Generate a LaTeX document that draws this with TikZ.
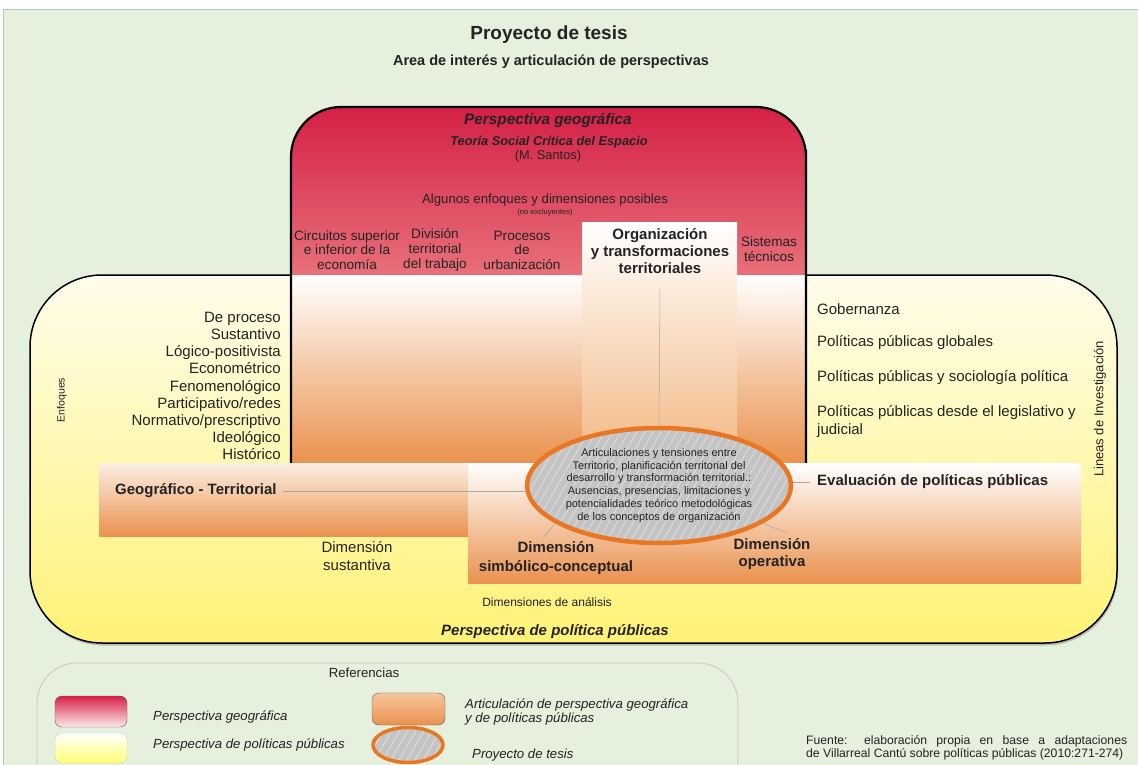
\documentclass[tikz,border=0pt]{standalone}
\usepackage{fontspec}
\setmainfont{Liberation Sans}
\usetikzlibrary{shapes.geometric,shadows,patterns.meta}
\definecolor{panel}{RGB}{229,240,221}
\definecolor{redtop}{RGB}{212,32,70}
\definecolor{redbot}{RGB}{232,112,122}
\definecolor{orng}{RGB}{234,146,78}
\definecolor{orglt}{RGB}{243,184,132}
\definecolor{ylwtop}{RGB}{255,253,236}
\definecolor{ylwbot}{RGB}{255,242,118}
\definecolor{elorng}{RGB}{232,118,34}
\definecolor{elgray}{RGB}{196,196,196}
\definecolor{txt}{RGB}{35,35,35}

\begin{document}
\begin{tikzpicture}[x=1pt, y=-1pt,
  every node/.style={text=txt, inner sep=0},
  lbl/.style={font=\fontsize{15}{17.1}\selectfont},
  bld/.style={font=\fontsize{15}{17}\selectfont\bfseries},
  col/.style={font=\fontsize{13.6}{14.6}\selectfont, align=center},
  leg/.style={font=\fontsize{13.2}{14.5}\selectfont\itshape, anchor=west, align=left},
  conn/.style={draw=gray!70, line width=0.5},
  hatched/.style={ellipse, draw=elorng, preaction={fill=elgray}, pattern color=white!80!gray,
    pattern={Lines[angle=60, distance=7pt, line width=0.6pt]}}]
\clip (0,0) rectangle (1138,765);
\fill[white] (0,0) rectangle (1138,765);
\filldraw[fill=panel, draw=gray!50] (3,9) rectangle (1145,775);

\node (title) at (549,35) {\fontsize{19}{22}\selectfont\bfseries Proyecto de tesis};
\node (subtitle) at (551,62) {\fontsize{14.5}{17}\selectfont\bfseries Area de interés y articulación de perspectivas};

% perspectiva de politicas publicas
\shadedraw[top color=ylwtop, bottom color=ylwbot, draw=black, line width=1.5, rounded corners=72,
  drop shadow={shadow xshift=1pt, shadow yshift=-2.5pt, opacity=.45}] (30,275) rectangle (1117,643);

% perspectiva geografica
\shade[top color=white, bottom color=orng] (291,275) rectangle (806,463);
\shade[top color=redtop, bottom color=redbot] (291,275) -- (291,200) [rounded corners=50] -- (291,107)
  -- (806,107) -- (806,200) [sharp corners] -- (806,275) -- cycle;
\shade[top color=white, bottom color=orglt] (582,222) rectangle (737,463);
\draw[line width=2.2] (291,463) -- (291,200) [rounded corners=50] -- (291,107)
  -- (806,107) -- (806,200) [sharp corners] -- (806,463);

% franjas de articulacion
\shade[top color=white!85!orng, bottom color=orng] (99,463) rectangle (468,536);
\shade[top color=white, bottom color=orng] (468,463) rectangle (1081,583);

\node (geohead) at (548,120) {\fontsize{15.3}{18}\selectfont\bfseries\itshape Perspectiva geográfica};
\node (teoria) at (549,142) {\fontsize{12.8}{15}\selectfont\bfseries\itshape Teoría Social Crítica del Espacio};
\node (santos) at (548,156) {\fontsize{12.8}{15}\selectfont (M. Santos)};
\node (algunos) at (545,200) {\fontsize{13.2}{15}\selectfont Algunos enfoques y dimensiones posibles};
\node (noexcl) at (545,213) {\fontsize{7.5}{9}\selectfont (no excluyentes)};

\node[col] (circ) at (347,250) {Circuitos superior\\e inferior de la\\economía};
\node[col] (div) at (435,250) {División\\territorial\\del trabajo};
\node[col] (proc) at (522,250) {Procesos\\de\\urbanización};
\node[bld, align=center] (org) at (660,251) {Organización\\y transformaciones\\territoriales};
\node[col] (sist) at (769,249) {Sistemas\\técnicos};

\node[lbl, align=right, anchor=east] (enfl) at (281,386) {De proceso\\Sustantivo\\Lógico-positivista\\Econométrico\\Fenomenológico\\Participativo/redes\\Normativo/prescriptivo\\Ideológico\\Histórico};
\node[rotate=90, font=\fontsize{10.5}{12}\selectfont] (enf) at (62,400) {Enfoques};

\node[lbl, anchor=west] (gob) at (817,309) {Gobernanza};
\node[lbl, anchor=west] (ppg) at (817,343) {Políticas públicas globales};
\node[lbl, anchor=west] (pps) at (817,378) {Políticas públicas y sociología política};
\node[anchor=west, align=left, font=\fontsize{15}{18}\selectfont] (ppl) at (817,422) {Políticas públicas desde el legislativo y\\judicial};
\node[rotate=90, font=\fontsize{13}{15}\selectfont] (lineas) at (1100,409) {Lineas de Investigación};

\node[bld, anchor=west] (geo) at (115,491) {Geográfico - Territorial};
\node[bld, anchor=west] (eval) at (817,482) {Evaluación de políticas públicas};
\node[lbl, align=center, font=\fontsize{15}{18}\selectfont] (sust) at (357,556) {Dimensión\\sustantiva};
\node[align=center, font=\fontsize{15}{19}\selectfont\bfseries] (sim) at (556,558) {Dimensión\\simbólico-conceptual};
\node[bld, align=center] (oper) at (772,554) {Dimensión\\operativa};
\node (dimana) at (547,602) {\fontsize{12}{14}\selectfont Dimensiones de análisis};
\node (pppub) at (555,632) {\fontsize{15}{18}\selectfont\bfseries\itshape Perspectiva de política públicas};

% proyecto de tesis
\node[hatched, line width=4.5, minimum width=231, minimum height=115, align=center,
  font=\fontsize{11}{12.8}\selectfont] (proj) at (659,485.5)
  {Articulaciones y tensiones entre\\Territorio, planificación territorial del\\desarrollo y transformación territorial.:\\Ausencias, presencias, limitaciones y\\potencialidades teórico metodológicas\\de los conceptos de organización};

\coordinate (simtip) at (543,538);
\coordinate (optip) at (787,533);
\draw[conn] ([xshift=6]geo.east) -- (geo.east -| proj.west);
\draw[conn] ([yshift=-15]org.south) -- (proj.north);
\draw[conn] ([xshift=-7]eval.west) -- (eval.west -| proj.east);
\draw[conn] (proj.200) -- (simtip);
\draw[conn] (proj.340) -- (optip);

% referencias
\draw[draw=gray!45, line width=0.8, rounded corners=40] (37,663) rectangle (738,800);
\node (ref) at (364,673) {\fontsize{13.2}{15}\selectfont Referencias};
\shadedraw[top color=redtop, bottom color=white!92!red, draw=gray!70!black, rounded corners=7] (55,696) rectangle (127,727);
\shadedraw[top color=white, bottom color=yellow!55, draw=gray!40, rounded corners=7] (55,733) rectangle (127,763);
\shadedraw[top color=orglt!80!white, bottom color=orng, draw=gray!70!black, rounded corners=7] (372,693) rectangle (445,725);
\node[hatched, line width=3.5, minimum width=70, minimum height=35] (legproj) at (408,745) {};
\node[leg] (lgeo) at (153,717) {Perspectiva geográfica};
\node[leg] (lpp) at (153,745) {Perspectiva de políticas públicas};
\node[leg] (lart) at (465,712) {Articulación de perspectiva geográfica\\y de políticas públicas};
\node[leg] (lproj) at (472,755) {Proyecto de tesis};

\node[anchor=west, font=\fontsize{12.2}{13.5}\selectfont] (fuente) at (806,748) {\parbox{321pt}{Fuente: elaboración propia en base a adaptaciones\linebreak de Villarreal Cantú sobre políticas públicas (2010:271-274)}};
\end{tikzpicture}
\end{document}
